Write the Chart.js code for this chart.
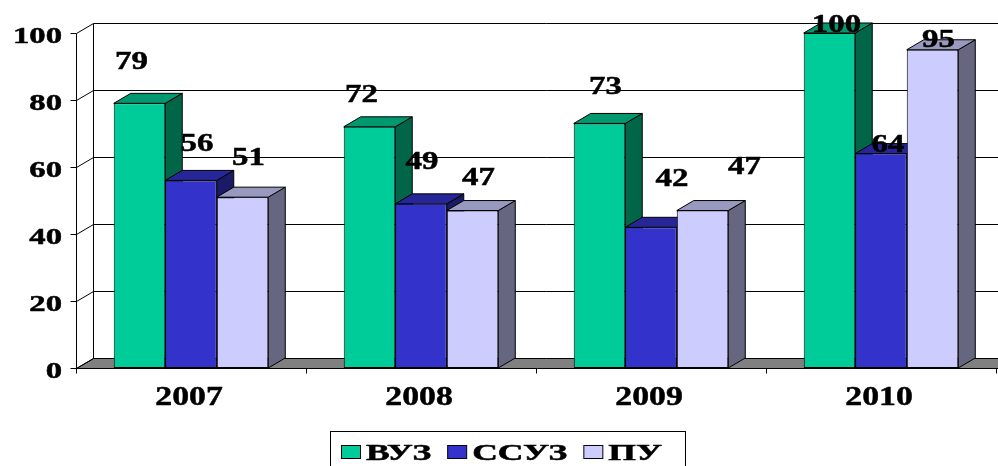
<!DOCTYPE html>
<html>
<head>
<meta charset="utf-8">
<script src="https://cdn.jsdelivr.net/npm/chart.js@4"></script>
<style>
  html, body { margin: 0; padding: 0; background: #fff; }
</style>
</head>
<body>
<canvas id="chart" width="998" height="466"></canvas>
<script>
const years = ['2007', '2008', '2009', '2010'];
const vuz = [79, 72, 73, 100];
const ssuz = [56, 49, 42, 64];
const pu = [51, 47, 47, 95];
const yTicks = [0, 20, 40, 60, 80, 100];

// where the value labels sit, relative to the top centre of each bar's front face
const labelNudge = [
    [[-8, -43], [-8, -34], [6, -38], [7, -10]],
    [[6, -38], [1, -44], [21, -50], [7, -10]],
    [[6, -41], [6, -34], [42, -45], [6, -11]]
];

const faces = [
    { front: '#00CC99', top: '#00996F', side: '#006647' },
    { front: '#3333CC', top: '#262699', side: '#1A1A66' },
    { front: '#CCCCFF', top: '#9999BF', side: '#666680' }
];
const DX = 17, DY = 10;
const FONT = '"Liberation Serif", "Times New Roman", serif';

function px(v) { return Math.round(v) + 0.5; }

// bold serif, stretched sideways like the original picture
function stretchText(ctx, txt, x, y, size, sx, align) {
    ctx.save();
    ctx.font = 'bold ' + size + 'px ' + FONT;
    ctx.textBaseline = 'alphabetic';
    ctx.textAlign = align;
    ctx.fillStyle = '#000';
    ctx.strokeStyle = '#000';
    ctx.lineWidth = 0.5;
    ctx.translate(x, y);
    ctx.scale(sx, 1);
    ctx.fillText(txt, 0, 0);
    ctx.strokeText(txt, 0, 0);
    ctx.restore();
}

function poly(ctx, pts, fill) {
    ctx.beginPath();
    ctx.moveTo(pts[0][0], pts[0][1]);
    for (let k = 1; k < pts.length; k++) ctx.lineTo(pts[k][0], pts[k][1]);
    ctx.closePath();
    ctx.fillStyle = fill;
    ctx.fill();
    ctx.stroke();
}

/* ------------------ 3D walls, floor and bar sides ------------------ */
const box3d = {
    id: 'box3d',
    beforeDatasetsDraw(chart) {
        const ctx = chart.ctx, area = chart.chartArea, ys = chart.scales.y;
        const W = chart.width;
        const y0 = px(ys.getPixelForValue(0));
        const left = px(area.left);
        ctx.save();
        ctx.lineWidth = 1;
        ctx.strokeStyle = '#000';

        // floor
        poly(ctx, [[left, y0], [left + DX, y0 - DY], [W + 2, y0 - DY], [W + 2, y0]], '#808080');

        // gridlines on back wall + left wall
        yTicks.forEach(v => {
            const y = px(ys.getPixelForValue(v));
            ctx.beginPath();
            ctx.moveTo(left - 6, y);
            ctx.lineTo(left, y);
            ctx.lineTo(left + DX, y - DY);
            if (v > 0) ctx.lineTo(W + 2, y - DY);
            ctx.stroke();
        });
        const yTop = px(ys.getPixelForValue(yTicks[yTicks.length - 1]));
        ctx.beginPath();
        ctx.moveTo(left, yTop); ctx.lineTo(left, y0);
        ctx.moveTo(left + DX, yTop - DY); ctx.lineTo(left + DX, y0 - DY);
        ctx.stroke();

        // category tick marks
        const step = (area.right - area.left) / years.length;
        for (let k = 0; k <= years.length; k++) {
            const x = px(area.left + k * step);
            ctx.beginPath();
            ctx.moveTo(x, y0); ctx.lineTo(x, y0 + 5);
            ctx.stroke();
        }

        // side and top faces, left to right
        years.forEach((_, i) => {
            chart.data.datasets.forEach((ds, d) => {
                const bar = chart.getDatasetMeta(d).data[i];
                const l = bar.x - bar.width / 2, r = bar.x + bar.width / 2;
                const t = bar.y, b = bar.base;
                poly(ctx, [[r, t], [r + DX, t - DY], [r + DX, b - DY], [r, b]], faces[d].side);
                poly(ctx, [[l, t], [l + DX, t - DY], [r + DX, t - DY], [r, t]], faces[d].top);
            });
        });
        ctx.restore();
    },
    afterDatasetsDraw(chart) {
        const ctx = chart.ctx, ys = chart.scales.y, xs = chart.scales.x, area = chart.chartArea;

        // value labels
        chart.data.datasets.forEach((ds, d) => {
            chart.getDatasetMeta(d).data.forEach((bar, i) => {
                const n = labelNudge[d][i];
                stretchText(ctx, String(ds.data[i]), bar.x + n[0], bar.y + n[1] + 8.7, 25.5, 1.29, 'center');
            });
        });

        // y tick labels
        yTicks.forEach(v => {
            const y = ys.getPixelForValue(v);
            stretchText(ctx, String(v), area.left - 14, y + 10.3, 23, 1.42, 'right');
        });

        // category labels
        years.forEach((lab, i) => {
            stretchText(ctx, lab, xs.getPixelForValue(i) - 2, ys.getPixelForValue(0) + 37, 27, 1.25, 'center');
        });

        // legend
        ctx.save();
        ctx.lineWidth = 1;
        ctx.strokeStyle = '#000';
        ctx.strokeRect(330.5, 431.5, 355, 50);
        ctx.font = 'bold 24px ' + FONT;
        let x = 341;
        chart.data.datasets.forEach((ds, d) => {
            ctx.fillStyle = faces[d].front;
            ctx.fillRect(x + 0.5, 445.5, 19, 13);
            ctx.strokeRect(x + 0.5, 445.5, 19, 13);
            const w = ctx.measureText(ds.label).width * 1.48;
            stretchText(ctx, ds.label, x + 25, 460, 24, 1.48, 'left');
            x += 25 + w + 16;
        });
        ctx.restore();
    }
};

const ctx = document.getElementById('chart').getContext('2d');
new Chart(ctx, {
    type: 'bar',
    data: {
        labels: years,
        datasets: [
            { label: 'ВУЗ', data: vuz, backgroundColor: faces[0].front },
            { label: 'ССУЗ', data: ssuz, backgroundColor: faces[1].front },
            { label: 'ПУ', data: pu, backgroundColor: faces[2].front }
        ].map(ds => Object.assign(ds, {
            borderColor: '#000',
            borderWidth: 1,
            borderSkipped: false,
            categoryPercentage: 0.672,
            barPercentage: 1
        }))
    },
    options: {
        responsive: false,
        animation: false,
        devicePixelRatio: 1,
        layout: { padding: { left: 76, right: 2, top: 33, bottom: 98 } },
        plugins: { legend: { display: false }, tooltip: { enabled: false } },
        scales: {
            x: { display: false },
            y: { display: false, min: 0, max: 100 }
        }
    },
    plugins: [box3d]
});
</script>
</body>
</html>
